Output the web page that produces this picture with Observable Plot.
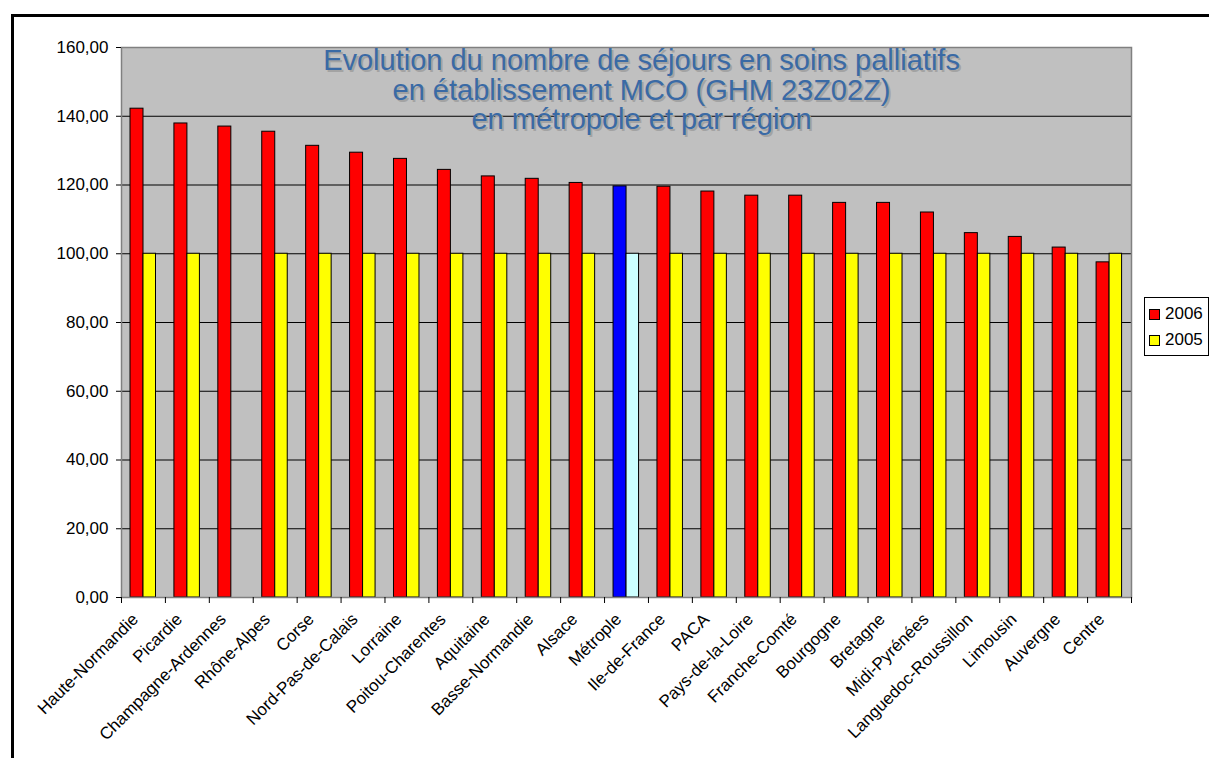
<!DOCTYPE html>
<html>
<head>
<meta charset="utf-8">
<script src="https://cdn.jsdelivr.net/npm/d3@7"></script>
<script src="https://cdn.jsdelivr.net/npm/@observablehq/plot@0.6"></script>
<style>
  body { margin: 0; background: #fff; font-family: "Liberation Sans", Arial, sans-serif; }
  #wrap { position: relative; width: 1209px; height: 758px; overflow: hidden; }
  #chart { position: absolute; left: 0; top: 0; }
  #chart text.title-shadow { text-shadow: 2px 2px 0 #a3a3a3; }
  #frame { position: absolute; left: 11px; top: 14px; width: 1300px; height: 900px; border: 3px solid #000; box-sizing: border-box; pointer-events: none; }
  #legend { position: absolute; left: 1144px; top: 297px; width: 65px; height: 59px; border: 1px solid #000; background: #fff; box-sizing: border-box; padding: 3px 0 0 4px; font-size: 17px; color: #000; }
  #legend .item { display: flex; align-items: center; height: 26px; }
  #legend .sw { width: 9px; height: 9px; border: 1px solid #000; margin-right: 5px; }
</style>
</head>
<body>
<div id="wrap">
  <div id="chart"></div>
  <div id="frame"></div>
  <div id="legend"></div>
</div>
<script>
const regions = ["Haute-Normandie", "Picardie", "Champagne-Ardennes", "Rhône-Alpes", "Corse", "Nord-Pas-de-Calais", "Lorraine", "Poitou-Charentes", "Aquitaine", "Basse-Normandie", "Alsace", "Métrople", "Ile-de-France", "PACA", "Pays-de-la-Loire", "Franche-Comté", "Bourgogne", "Bretagne", "Midi-Pyrénées", "Languedoc-Roussillon", "Limousin", "Auvergne", "Centre"];
const values2006 = [142.2, 137.9, 137.0, 135.5, 131.4, 129.4, 127.6, 124.4, 122.5, 121.8, 120.6, 119.6, 119.5, 118.1, 116.9, 116.9, 114.8, 114.8, 112.0, 106.0, 104.9, 101.8, 97.5];
const values2005 = [100, 100, null, 100, 100, 100, 100, 100, 100, 100, 100, 100, 100, 100, 100, 100, 100, 100, 100, 100, 100, 100, 100];
const seriesNames = ["2006", "2005"];
const seriesColors = ["#ff0000", "#ffff00"];
const highlightRegion = "Métrople";
const highlightColors = ["#0000ff", "#ccffff"];
const yTicks = [0, 20, 40, 60, 80, 100, 120, 140, 160];
const titleText = "Evolution du nombre de séjours en soins palliatifs\nen établissement MCO (GHM 23Z02Z)\nen métropole et par région";

const data2006 = regions.map((r, i) => ({region: r, value: values2006[i], fill: r === highlightRegion ? highlightColors[0] : seriesColors[0]}));
const data2005 = regions.map((r, i) => ({region: r, value: values2005[i], fill: r === highlightRegion ? highlightColors[1] : seriesColors[1]})).filter(d => d.value != null);

const fmt = v => d3.format(".2f")(v).replace(".", ",");

const W = 1209, H = 758, ML = 121, MR = 78, MT = 47, MB = 161;
const bw = (W - ML - MR) / regions.length;

const chart = Plot.plot({
  width: W, height: H,
  marginLeft: ML, marginRight: MR, marginTop: MT, marginBottom: MB,
  style: {fontFamily: "'Liberation Sans', Arial, sans-serif", fontSize: "17px", background: "transparent", color: "#000"},
  x: {domain: regions, padding: 0, round: false, label: null},
  y: {domain: [0, 160], label: null},
  color: {type: "identity"},
  marks: [
    Plot.frame({fill: "#c0c0c0", stroke: "none"}),
    Plot.ruleY(yTicks, {stroke: "#000", strokeWidth: 1}),
    Plot.barY(data2006, {x: "region", y: "value", fill: "fill", stroke: "#000", strokeWidth: 1, insetLeft: 9, insetRight: bw - 22}),
    Plot.barY(data2005, {x: "region", y: "value", fill: "fill", stroke: "#000", strokeWidth: 1, insetLeft: 22, insetRight: bw - 34.5}),
    Plot.frame({stroke: "#808080", strokeWidth: 1.5}),
    Plot.axisY({ticks: yTicks, tickFormat: fmt, tickSize: 5, tickPadding: 8, fontSize: 17, stroke: "#000"}),
    Plot.axisX({tickSize: 6, dx: -bw / 2, text: null}),
    Plot.axisX({ticks: [regions[regions.length - 1]], tickSize: 6, dx: bw / 2, text: null}),
    Plot.axisX({tickSize: 0, tickRotate: -45, tickPadding: 19, dx: -8, fontSize: 17}),
    Plot.text([titleText], {frameAnchor: "top", dx: 15, dy: 1, fill: "#3a6aa5", fontSize: 29, lineHeight: 1.03})
  ]
});
d3.select(chart).selectAll("text").filter(function() { return this.textContent.startsWith("Evolution"); }).classed("title-shadow", true);
document.getElementById("chart").append(chart);

const legend = document.getElementById("legend");
seriesNames.forEach((name, i) => {
  const item = document.createElement("div");
  item.className = "item";
  const sw = document.createElement("div");
  sw.className = "sw";
  sw.style.background = seriesColors[i];
  const label = document.createElement("span");
  label.textContent = name;
  item.append(sw, label);
  legend.append(item);
});
</script>
</body>
</html>
